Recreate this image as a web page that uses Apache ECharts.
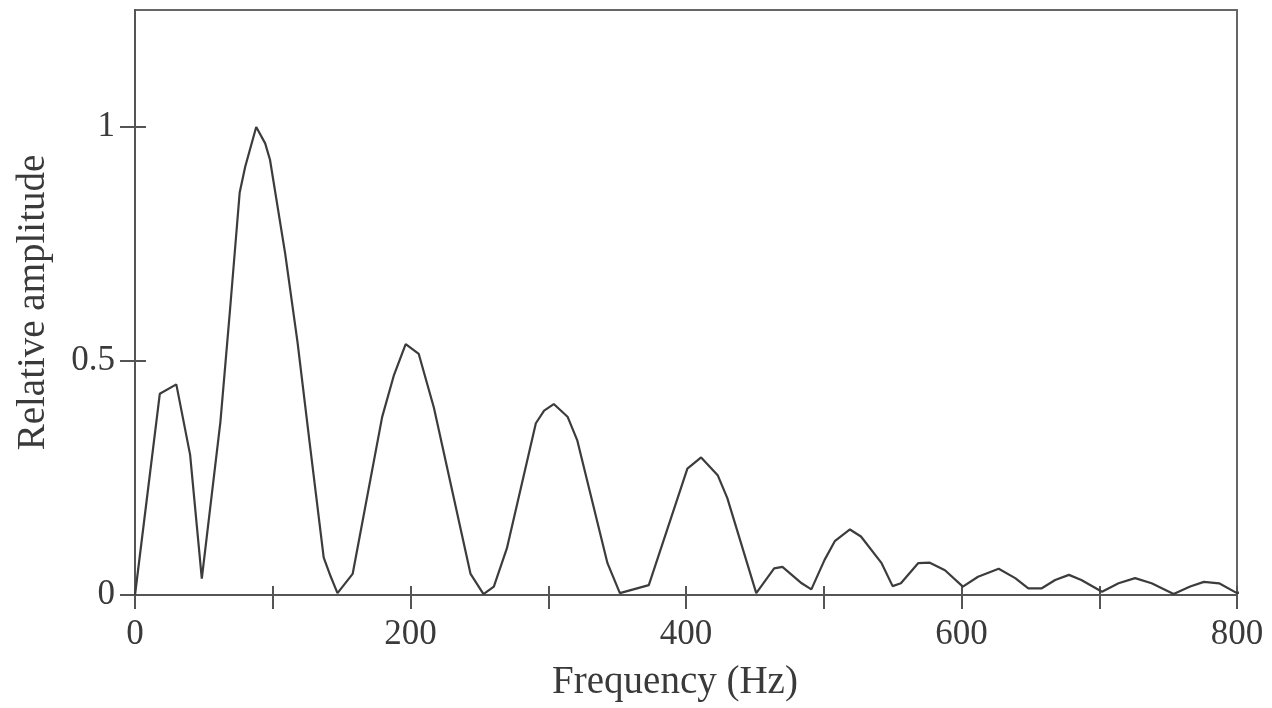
<!DOCTYPE html>
<html>
<head>
<meta charset="utf-8">
<script src="https://cdn.jsdelivr.net/npm/echarts@6/dist/echarts.min.js"></script>
<style>
html,body{margin:0;padding:0;background:#fff;}
#chart{width:1272px;height:708px;}
</style>
</head>
<body>
<div id="chart"></div>
<script>
// Frequency (Hz) sample positions of the spectrum polyline
const frequency = [0, 18, 30, 40, 48.5, 62, 69, 76, 80, 88, 94.5, 98, 109, 118, 127, 137, 142, 147, 158, 179.4, 188, 196.5, 206, 217, 243.6, 253, 260.5, 270, 291, 297, 304, 314, 321, 343, 352, 373, 401, 411, 423, 430, 451, 464, 470, 484, 491, 500.6, 508, 519, 527, 542, 550, 556, 568.5, 577, 588, 601, 612, 627, 639, 648.5, 658, 668, 678, 687, 702, 714, 726, 738, 754, 766, 776, 787, 800, 812];
// Relative amplitude at each frequency
const amplitude = [0, 0.43, 0.45, 0.30, 0.035, 0.37, 0.61, 0.86, 0.915, 1.0, 0.965, 0.93, 0.73, 0.54, 0.32, 0.08, 0.04, 0.004, 0.045, 0.38, 0.47, 0.536, 0.515, 0.40, 0.045, 0.002, 0.018, 0.10, 0.367, 0.394, 0.408, 0.381, 0.331, 0.068, 0.004, 0.021, 0.27, 0.294, 0.256, 0.207, 0.004, 0.057, 0.06, 0.025, 0.012, 0.075, 0.115, 0.14, 0.125, 0.068, 0.019, 0.025, 0.068, 0.069, 0.053, 0.018, 0.039, 0.056, 0.036, 0.014, 0.014, 0.032, 0.043, 0.032, 0.007, 0.025, 0.036, 0.025, 0.002, 0.018, 0.028, 0.025, 0.004, 0.015];
// Axis ticks and labels
const xTickValues = [0, 100, 200, 300, 400, 500, 600, 700, 800];
const xLabelValues = [0, 200, 400, 600, 800];
const yTickValues = [0, 0.5, 1];
const yLabelValues = [0, 0.5, 1];

const points = frequency.map((f, i) => [f, amplitude[i]]);
const FONT = '"Liberation Serif", "DejaVu Serif", serif';
const AX = '#555';
const TXT = '#3a3a3a';

const chart = echarts.init(document.getElementById('chart'), null, {renderer: 'canvas'});
chart.setOption({
  backgroundColor: '#fff',
  animation: false,
  grid: {left: 135, top: 10, right: 35, bottom: 113, show: true, borderColor: '#666', borderWidth: 2, backgroundColor: 'transparent'},
  xAxis: [
    {
      type: 'value', min: 0, max: 800, interval: 100, position: 'bottom',
      name: 'Frequency (Hz)', nameLocation: 'middle', nameGap: 68,
      nameTextStyle: {fontFamily: FONT, fontSize: 39, color: TXT, padding: [0, 22, 0, 0]},
      axisLine: {show: true, lineStyle: {color: AX, width: 2}},
      axisTick: {show: true, inside: false, length: 14, customValues: xTickValues, lineStyle: {color: AX, width: 2}},
      axisLabel: {show: true, customValues: xLabelValues, margin: 22, fontFamily: FONT, fontSize: 35, color: TXT},
      splitLine: {show: false}
    },
    {
      type: 'value', min: 0, max: 800, interval: 100, position: 'bottom',
      axisLine: {show: false},
      axisTick: {show: true, inside: true, length: 9, customValues: xTickValues, lineStyle: {color: AX, width: 2}},
      axisLabel: {show: false},
      splitLine: {show: false}
    }
  ],
  yAxis: [
    {
      type: 'value', min: 0, max: 1.25, interval: 0.5, position: 'left',
      name: 'Relative amplitude', nameLocation: 'middle', nameGap: 82,
      nameTextStyle: {fontFamily: FONT, fontSize: 39, color: TXT},
      axisLine: {show: true, lineStyle: {color: AX, width: 2}},
      axisTick: {show: true, inside: false, length: 15, customValues: yTickValues, lineStyle: {color: AX, width: 2}},
      axisLabel: {show: true, customValues: yLabelValues, margin: 20, fontFamily: FONT, fontSize: 35, color: TXT},
      splitLine: {show: false}
    },
    {
      type: 'value', min: 0, max: 1.25, interval: 0.5, position: 'left',
      axisLine: {show: false},
      axisTick: {show: true, inside: true, length: 11, customValues: yTickValues, lineStyle: {color: AX, width: 2}},
      axisLabel: {show: false},
      splitLine: {show: false}
    }
  ],
  series: [{
    type: 'line',
    data: points,
    xAxisIndex: 0,
    yAxisIndex: 0,
    showSymbol: false,
    smooth: false,
    clip: false,
    lineStyle: {color: '#3c3c3c', width: 2.2}
  }]
});
</script>
</body>
</html>
